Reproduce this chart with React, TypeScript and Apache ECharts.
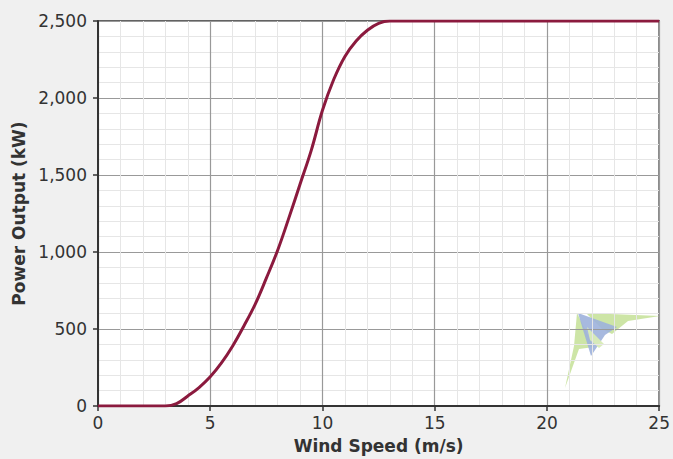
import React, { useEffect, useRef } from "react";
import * as echarts from "echarts";

const windSpeeds: number[] = [
  0, 0.5, 1, 1.5, 2, 2.5, 3, 3.5, 4, 4.5, 5, 5.5, 6, 6.5, 7, 7.5, 8, 8.5, 9, 9.5,
  10, 10.5, 11, 11.5, 12, 12.5, 13, 14, 15, 16, 17, 18, 19, 20, 21, 22, 23, 24, 25,
];
const powerKW: number[] = [
  0, 0, 0, 0, 0, 0, 0, 15, 65, 120, 190, 280, 390, 520, 660, 830, 1010, 1220, 1440, 1660,
  1920, 2120, 2270, 2370, 2440, 2485, 2500, 2500, 2500, 2500, 2500, 2500, 2500, 2500, 2500, 2500, 2500, 2500, 2500,
];
const xTitle = "Wind Speed (m/s)";
const yTitle = "Power Output (kW)";

export default function App() {
  const ref = useRef<HTMLDivElement>(null);
  useEffect(() => {
    if (!ref.current) return;
    const chart = echarts.init(ref.current, undefined, { renderer: "svg" });
    const data = windSpeeds.map((s, i) => [s, powerKW[i]]);
    const font = "DejaVu Sans";
    chart.setOption({
      animation: false,
      backgroundColor: "#f0f0f0",
      textStyle: { fontFamily: font },
      grid: {
        left: 98,
        right: 9,
        top: 21,
        bottom: 50,
        show: true,
        backgroundColor: "#ffffff",
        borderColor: "#333333",
        borderWidth: 1.5,
      },
      xAxis: {
        type: "value",
        min: 0,
        max: 25,
        interval: 5,
        name: xTitle,
        nameLocation: "middle",
        nameGap: 31,
        nameTextStyle: { fontFamily: font, fontSize: 17, fontWeight: "bold", color: "#333333" },
        axisLine: { show: true, lineStyle: { color: "#333333", width: 2 } },
        axisTick: { show: true, inside: false, length: 5, lineStyle: { color: "#333333", width: 1.5 } },
        axisLabel: { fontFamily: font, fontSize: 17, color: "#333333", margin: 8 },
        splitLine: { show: true, lineStyle: { color: "#999999", width: 1.2 } },
        minorTick: { show: false, splitNumber: 5 },
        minorSplitLine: { show: true, lineStyle: { color: "#e6e6e6", width: 1 } },
      },
      yAxis: {
        type: "value",
        min: 0,
        max: 2500,
        interval: 500,
        name: yTitle,
        nameLocation: "middle",
        nameGap: 69,
        nameTextStyle: { fontFamily: font, fontSize: 17, fontWeight: "bold", color: "#333333" },
        axisLine: { show: true, lineStyle: { color: "#333333", width: 2 } },
        axisTick: { show: true, inside: false, length: 5, lineStyle: { color: "#333333", width: 1.5 } },
        axisLabel: {
          fontFamily: font,
          fontSize: 17,
          color: "#333333",
          margin: 11,
          formatter: (v: number) => v.toLocaleString("en-US"),
        },
        splitLine: { show: true, lineStyle: { color: "#999999", width: 1.2 } },
        minorTick: { show: false, splitNumber: 5 },
        minorSplitLine: { show: true, lineStyle: { color: "#e6e6e6", width: 1 } },
      },
      graphic: [
        {
          type: "group",
          silent: true,
          children: [
            {
              type: "polygon",
              shape: { points: [[586, 313], [660, 316], [628, 321], [612, 334], [602, 329]] },
              style: { fill: "#c8e29c", opacity: 0.9 },
            },
            {
              type: "polygon",
              shape: { points: [[577, 313], [594, 347], [579, 349], [565, 388], [574, 346]] },
              style: { fill: "#c8e29c", opacity: 0.9 },
            },
            {
              type: "polygon",
              shape: { points: [[578, 313], [617, 327], [605, 335], [591, 356], [584, 333]] },
              style: { fill: "#9db1dc", opacity: 0.9 },
            },
            {
              type: "polygon",
              shape: { points: [[587, 327], [604, 344], [599, 348], [590, 340]] },
              style: { fill: "#d8ebb6", opacity: 0.95 },
            },
          ],
        },
      ],
      series: [
        {
          type: "line",
          data,
          showSymbol: false,
          smooth: 0.4,
          lineStyle: { color: "#8b1a3e", width: 3 },
          z: 5,
        },
      ],
    });
    return () => chart.dispose();
  }, []);
  return (
    <div
      ref={ref}
      style={{ position: "fixed", left: 0, top: 0, width: 673, height: 459 }}
    />
  );
}
